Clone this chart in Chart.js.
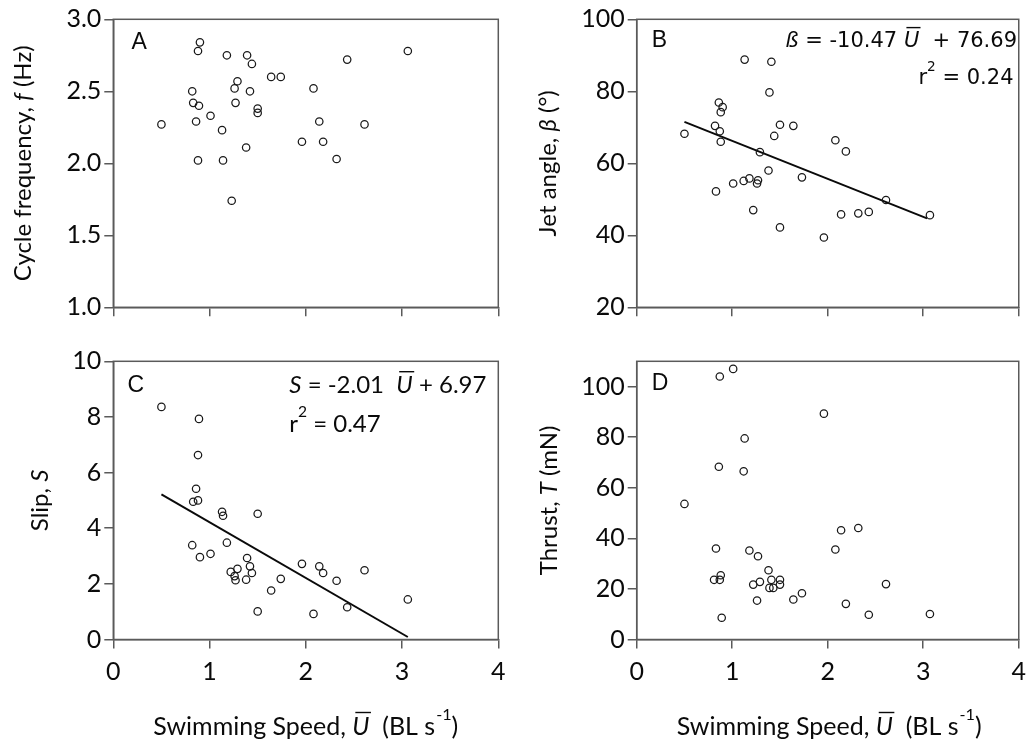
<!DOCTYPE html>
<html>
<head>
<meta charset="utf-8">
<script src="https://cdn.jsdelivr.net/npm/chart.js@4.4.1/dist/chart.umd.min.js"></script>
<style>
  html, body { margin: 0; padding: 0; background: #fff; }
  #wrap { position: relative; width: 1034px; height: 745px; overflow: hidden; }
  #wrap canvas { position: absolute; left: 0; top: 0; }
</style>
</head>
<body>
<div id="wrap">
  <canvas id="panelA" width="1034" height="745"></canvas>
  <canvas id="panelB" width="1034" height="745"></canvas>
  <canvas id="panelC" width="1034" height="745"></canvas>
  <canvas id="panelD" width="1034" height="745"></canvas>
</div>
<script>
// Tick values
const speedTicks = [0, 1, 2, 3, 4];
const freqTicks = [1.0, 1.5, 2.0, 2.5, 3.0];
const jetTicks = [20, 40, 60, 80, 100];
const slipTicks = [0, 2, 4, 6, 8, 10];
const thrustTicks = [0, 20, 40, 60, 80, 100];

// A - cycle frequency (Hz) vs swimming speed (BL/s)
const freqU = [0.50, 0.90, 0.88, 0.82, 0.83, 0.89, 0.86, 0.88, 1.01, 1.13, 1.14, 1.18, 1.29, 1.26, 1.27, 1.23,
               1.39, 1.44, 1.42, 1.50, 1.50, 1.38, 1.64, 1.74, 1.96, 2.08, 2.14, 2.18, 2.32, 2.43, 2.61, 3.06];
const freqF = [2.27, 2.84, 2.78, 2.50, 2.42, 2.40, 2.29, 2.02, 2.33, 2.23, 2.02, 2.75, 2.57, 2.52, 2.42, 1.74,
               2.75, 2.69, 2.50, 2.38, 2.35, 2.11, 2.60, 2.60, 2.15, 2.52, 2.29, 2.15, 2.03, 2.72, 2.27, 2.78];

// B - jet angle (deg)
const jetU = [0.50, 0.82, 0.86, 0.90, 0.88, 0.87, 0.88, 0.83, 1.01, 1.12, 1.18, 1.13, 1.22, 1.27, 1.26, 1.29,
              1.38, 1.39, 1.41, 1.44, 1.50, 1.50, 1.64, 1.73, 1.96, 2.08, 2.14, 2.19, 2.32, 2.43, 2.61, 3.07];
const jetBeta = [68.2, 70.4, 76.9, 75.6, 74.2, 68.9, 66.0, 52.2, 54.4, 55.1, 55.8, 88.8, 47.0, 55.3, 54.4, 63.1,
                 58.0, 79.7, 88.2, 67.6, 70.7, 42.2, 70.4, 56.1, 39.4, 66.4, 45.8, 63.3, 46.1, 46.5, 49.8, 45.6];
const jetFitU = [0.50, 3.04];
const jetFitBeta = [71.5, 44.7];

// C - slip
const slipU = [0.50, 0.89, 0.88, 0.86, 0.83, 0.88, 0.82, 0.90, 1.01, 1.13, 1.14, 1.18, 1.22, 1.29, 1.26, 1.27,
               1.39, 1.42, 1.44, 1.38, 1.50, 1.50, 1.64, 1.74, 1.96, 2.08, 2.14, 2.18, 2.32, 2.43, 2.61, 3.06];
const slipS = [8.36, 7.93, 6.63, 5.42, 4.95, 5.00, 3.39, 2.96, 3.08, 4.59, 4.45, 3.48, 2.43, 2.54, 2.28, 2.13,
               2.93, 2.63, 2.39, 2.15, 4.52, 1.01, 1.76, 2.18, 2.72, 0.92, 2.63, 2.39, 2.11, 1.16, 2.49, 1.44];
const slipFitU = [0.50, 3.06];
const slipFitS = [5.22, 0.09];

// D - thrust (mN)
const thrustU = [0.50, 0.83, 0.81, 0.88, 0.87, 0.89, 0.87, 0.86, 1.01, 1.13, 1.12, 1.18, 1.22, 1.27, 1.29, 1.26,
                 1.38, 1.41, 1.39, 1.43, 1.50, 1.50, 1.64, 1.73, 1.96, 2.08, 2.14, 2.19, 2.32, 2.43, 2.61, 3.07];
const thrustT = [53.6, 36.0, 23.6, 25.4, 23.6, 8.6, 104.0, 68.3, 107.0, 79.5, 66.5, 35.2, 21.7, 32.9, 22.8, 15.4,
                 27.4, 23.6, 20.4, 20.4, 23.6, 21.7, 15.8, 18.3, 89.3, 35.6, 43.2, 14.1, 44.1, 9.8, 21.9, 10.1];

const PAGE_W = 1034, PAGE_H = 745;
const AXIS_GREY = '#5a5a5a';
const INK = '#0a0a0a';
const X_AXIS_H = 60;

Chart.defaults.font.family = 'Lato';

// Draw a run of text pieces (italic, overline, superscript) as one line
function drawRich(ctx, spec) {
    const size = spec.size;
    const fontFor = p => (p.i ? 'italic ' : '') + (p.sup ? size * 0.65 : size) + 'px "' + spec.family + '"';
    const widths = spec.parts.map(p => {
        ctx.font = fontFor(p);
        return ctx.measureText(p.t).width + (p.gap || 0);
    });
    const total = widths.reduce((a, b) => a + b, 0);

    ctx.save();
    ctx.translate(spec.x, spec.y);
    if (spec.rotate) ctx.rotate(-Math.PI / 2);
    let cx = spec.align === 'center' ? -total / 2 : (spec.align === 'right' ? -total : 0);
    ctx.fillStyle = INK;
    ctx.strokeStyle = INK;
    ctx.textAlign = 'left';
    ctx.textBaseline = 'alphabetic';
    spec.parts.forEach((p, k) => {
        ctx.font = fontFor(p);
        const px = cx + (p.gap || 0);
        ctx.fillText(p.t, px, p.sup ? -size * 0.62 : 0);
        if (p.over) {
            const w = widths[k] - (p.gap || 0);
            ctx.lineWidth = 1.4;
            ctx.beginPath();
            ctx.moveTo(px + size * 0.12, -size * 0.9);
            ctx.lineTo(px + w + size * 0.06, -size * 0.9);
            ctx.stroke();
        }
        cx += widths[k];
    });
    ctx.restore();
}

// Box around the plot area
const frameBox = {
    id: 'frameBox',
    afterDatasetsDraw(chart) {
        const a = chart.chartArea;
        const ctx = chart.ctx;
        ctx.save();
        ctx.strokeStyle = AXIS_GREY;
        ctx.lineWidth = 1.5;
        ctx.strokeRect(a.left, a.top, a.right - a.left, a.bottom - a.top);
        ctx.restore();
    }
};

// Titles, panel letters and fit equations
function textLayer(texts) {
    return {
        id: 'textLayer',
        afterDraw(chart) {
            texts.forEach(t => drawRich(chart.ctx, t));
        }
    };
}

function toPoints(xs, ys) {
    return xs.map((x, i) => ({ x: x, y: ys[i] }));
}

function buildPanel(cfg) {
    const datasets = [{
        data: toPoints(cfg.xs, cfg.ys),
        pointStyle: 'circle',
        pointRadius: 3.7,
        pointBorderWidth: 1.25,
        pointBorderColor: '#1a1a1a',
        pointBackgroundColor: 'rgba(0,0,0,0)',
        showLine: false
    }];
    if (cfg.fitX) {
        datasets.push({
            data: toPoints(cfg.fitX, cfg.fitY),
            showLine: true,
            borderColor: '#0a0a0a',
            borderWidth: 2,
            pointRadius: 0
        });
    }

    const tickFont = { family: 'Lato', size: 25 };
    return new Chart(document.getElementById(cfg.id), {
        type: 'scatter',
        data: { datasets: datasets },
        options: {
            responsive: false,
            animation: false,
            devicePixelRatio: 1,
            layout: {
                padding: {
                    left: 0,
                    top: cfg.box.t,
                    right: PAGE_W - cfg.box.r,
                    bottom: PAGE_H - cfg.box.b - X_AXIS_H
                }
            },
            plugins: { legend: { display: false }, tooltip: { enabled: false } },
            scales: {
                x: {
                    type: 'linear', min: 0, max: 4,
                    afterBuildTicks: s => { s.ticks = speedTicks.map(v => ({ value: v })); },
                    afterFit: s => { s.height = X_AXIS_H; },
                    grid: { drawOnChartArea: false, drawTicks: true, tickLength: 9, color: AXIS_GREY, lineWidth: 1.5 },
                    border: { display: true, color: AXIS_GREY, width: 1.5 },
                    ticks: {
                        color: cfg.xLabels ? INK : 'rgba(0,0,0,0)',
                        font: tickFont, padding: 8, maxRotation: 0, autoSkip: false
                    }
                },
                y: {
                    type: 'linear', min: cfg.yMin, max: cfg.yMax,
                    afterBuildTicks: s => { s.ticks = cfg.yTicks.map(v => ({ value: v })); },
                    afterFit: s => { s.width = cfg.box.l; },
                    grid: { drawOnChartArea: false, drawTicks: true, tickLength: 9, color: AXIS_GREY, lineWidth: 1.5 },
                    border: { display: true, color: AXIS_GREY, width: 1.5 },
                    ticks: {
                        color: INK, font: tickFont, padding: 3, autoSkip: false,
                        callback: v => cfg.yFmt ? v.toFixed(cfg.yFmt) : String(v)
                    }
                }
            }
        },
        plugins: [frameBox, textLayer(cfg.texts)]
    });
}

const letterFont = 'Liberation Sans';
const speedTitle = [{ t: 'Swimming Speed, ' }, { t: 'U', i: true, over: true }, { t: '  (BL s' },
                    { t: '-1', sup: true, gap: 1 }, { t: ')' }];

buildPanel({
    id: 'panelA', box: { l: 113.3, r: 498.3, t: 19.3, b: 307.3 },
    xs: freqU, ys: freqF, yMin: 1, yMax: 3, yTicks: freqTicks, yFmt: 1, xLabels: false,
    texts: [
        { parts: [{ t: 'A' }], x: 131.5, y: 48.5, size: 23, family: letterFont },
        { parts: [{ t: 'Cycle frequency, ' }, { t: 'f', i: true }, { t: ' (Hz)' }],
          x: 30.5, y: 163.3, size: 24, family: 'Lato', align: 'center', rotate: true }
    ]
});

buildPanel({
    id: 'panelB', box: { l: 636.7, r: 1021.7, t: 19.3, b: 307.3 },
    xs: jetU, ys: jetBeta, yMin: 20, yMax: 100, yTicks: jetTicks, xLabels: false,
    fitX: jetFitU, fitY: jetFitBeta,
    texts: [
        { parts: [{ t: 'B' }], x: 651.7, y: 46.7, size: 23, family: letterFont },
        { parts: [{ t: 'Jet angle, ' }, { t: 'β', i: true }, { t: ' (°)' }],
          x: 556, y: 163.3, size: 24, family: 'Lato', align: 'center', rotate: true },
        { parts: [{ t: 'ß', i: true }, { t: ' = -10.47 ' }, { t: 'U', i: true, over: true }, { t: '  + 76.69' }],
          x: 1017, y: 46.5, size: 21, family: 'DejaVu Sans', align: 'right' },
        { parts: [{ t: 'r' }, { t: '2', sup: true }, { t: ' = 0.24' }],
          x: 1013.5, y: 84, size: 21, family: 'DejaVu Sans', align: 'right' }
    ]
});

buildPanel({
    id: 'panelC', box: { l: 113.3, r: 498.3, t: 361.3, b: 639.5 },
    xs: slipU, ys: slipS, yMin: 0, yMax: 10, yTicks: slipTicks, xLabels: true,
    fitX: slipFitU, fitY: slipFitS,
    texts: [
        { parts: [{ t: 'C' }], x: 127.4, y: 391.7, size: 23, family: letterFont },
        { parts: [{ t: 'Slip, ' }, { t: 'S', i: true }],
          x: 48, y: 500.4, size: 24, family: 'Lato', align: 'center', rotate: true },
        { parts: [{ t: 'S', i: true }, { t: ' = -2.01  ' }, { t: 'U', i: true, over: true }, { t: ' + 6.97' }],
          x: 289.3, y: 393.3, size: 24, family: 'Lato' },
        { parts: [{ t: 'r' }, { t: '2', sup: true }, { t: ' = 0.47' }],
          x: 289.3, y: 431.7, size: 24, family: 'Lato' },
        { parts: speedTitle, x: 305.8, y: 735, size: 25, family: 'Lato', align: 'center' }
    ]
});

buildPanel({
    id: 'panelD', box: { l: 636.7, r: 1021.7, t: 361.3, b: 639.5 },
    xs: thrustU, ys: thrustT, yMin: 0, yMax: 110, yTicks: thrustTicks, xLabels: true,
    texts: [
        { parts: [{ t: 'D' }], x: 651.7, y: 390, size: 23, family: letterFont },
        { parts: [{ t: 'Thrust, ' }, { t: 'T', i: true }, { t: ' (mN)' }],
          x: 556.5, y: 500.4, size: 24, family: 'Lato', align: 'center', rotate: true },
        { parts: speedTitle, x: 829.2, y: 735, size: 25, family: 'Lato', align: 'center' }
    ]
});
</script>
</body>
</html>
